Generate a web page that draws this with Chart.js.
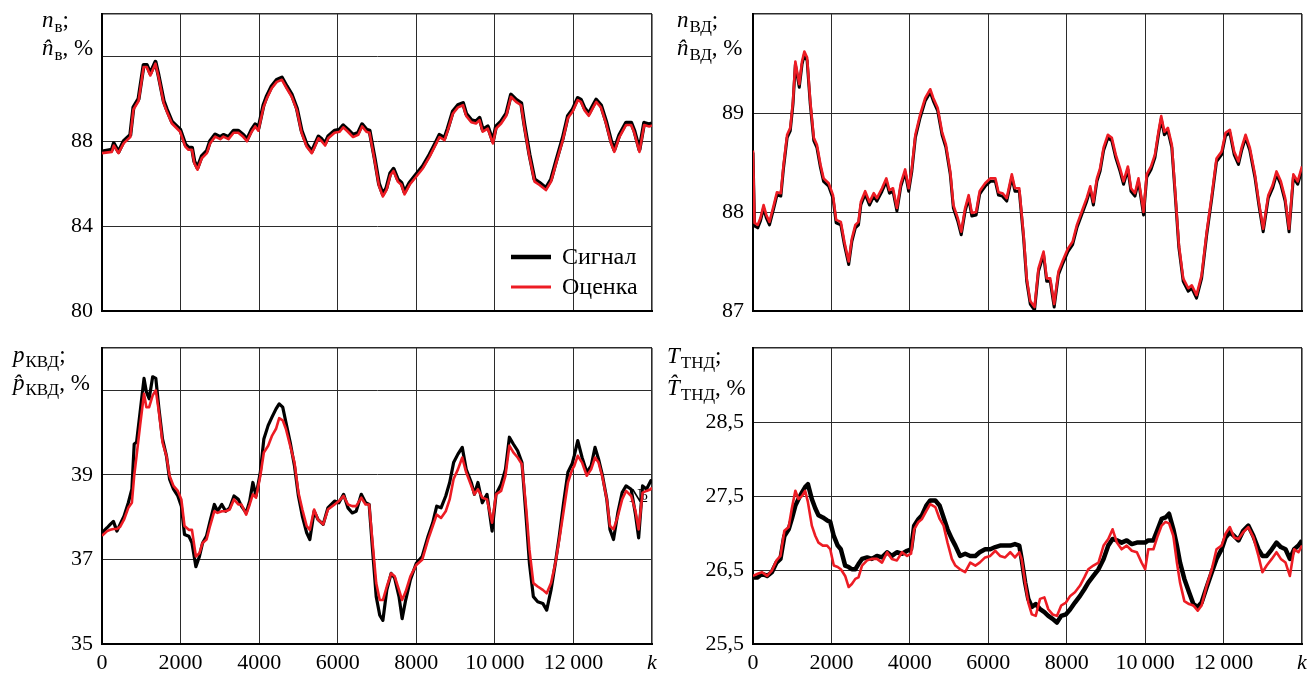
<!DOCTYPE html>
<html><head><meta charset="utf-8">
<script src="https://cdn.jsdelivr.net/npm/chart.js@4.4.1/dist/chart.umd.min.js"></script>
<style>
html,body{margin:0;padding:0;background:#fff;}
#wrap{position:relative;width:1307px;height:675px;overflow:hidden;background:#fff;}
.p{position:absolute;}
canvas{display:block;}
</style></head><body>
<div id="wrap">
<div class="p" style="left:0;top:0;"><canvas id="c1" width="660" height="330"></canvas></div>
<div class="p" style="left:660px;top:0;"><canvas id="c2" width="647" height="330"></canvas></div>
<div class="p" style="left:0;top:330px;"><canvas id="c3" width="660" height="345"></canvas></div>
<div class="p" style="left:660px;top:330px;"><canvas id="c4" width="647" height="345"></canvas></div>
</div>
<script>
// ---------- data ----------
const seriesNames = ['Сигнал', 'Оценка'];
const xGrid = [0,2000,4000,6000,8000,10000,12000,14000];
const xTickLabels = ['0','2000','4000','6000','8000','10\u2009000','12\u2009000','k'];

// panel 1: n_в
const k1 = [0,250,300,420,550,720,800,930,1060,1140,
1230,1360,1440,1570,1650,1780,1990,2120,2200,2290,
2350,2430,2540,2670,2750,2880,3010,3090,3220,3350,
3470,3600,3690,3810,3900,3980,4110,4190,4320,4450,
4580,4700,4830,4960,5080,5210,5340,5420,5510,5590,
5680,5760,5920,6050,6140,6260,6390,6520,6620,6730,
6810,6940,7050,7150,7240,7340,7420,7530,7620,7700,
7830,8000,8170,8340,8510,8590,8720,8800,8930,9060,
9190,9270,9400,9520,9610,9690,9820,9950,10030,10160,
10290,10410,10540,10670,10750,10880,11010,11130,11300,11430,
11560,11730,11860,11980,12110,12190,12280,12390,12490,12580,
12700,12830,12960,13040,13170,13340,13470,13550,13680,13800,
13930,14000];
const sig1 = [87.52,87.6,87.9,87.5,88.0,88.3,89.6,90.0,91.6,91.6,
91.2,91.75,91.1,89.9,89.5,88.92,88.55,87.85,87.7,87.7,
87.05,86.75,87.3,87.55,88.0,88.32,88.2,88.3,88.2,88.5,
88.5,88.3,88.08,88.55,88.8,88.6,89.7,90.1,90.6,90.9,
91.0,90.6,90.2,89.55,88.5,87.85,87.52,87.85,88.22,88.1,
87.9,88.24,88.5,88.55,88.75,88.55,88.3,88.4,88.8,88.55,
88.5,87.2,86.0,85.5,85.8,86.5,86.7,86.2,86.05,85.6,
86.05,86.44,86.83,87.38,88.0,88.3,88.16,88.6,89.4,89.7,
89.8,89.3,89.0,88.94,89.1,88.55,88.7,88.0,88.7,88.94,
89.3,90.2,89.96,89.8,88.8,87.38,86.2,86.05,85.8,86.2,
87.07,88.16,89.2,89.5,90.04,89.96,89.57,89.3,89.65,89.96,
89.7,88.94,88.0,87.6,88.3,88.87,88.87,88.5,87.6,88.87,
88.8,88.85];
const est1 = [87.44,87.5,87.8,87.44,87.9,88.2,89.5,89.9,91.5,91.5,
91.1,91.66,91.03,89.8,89.4,88.84,88.45,87.75,87.6,87.6,
86.97,86.66,87.2,87.44,87.9,88.22,88.1,88.22,88.1,88.4,
88.4,88.2,88.0,88.45,88.7,88.5,89.6,90.0,90.5,90.8,
90.9,90.5,90.1,89.47,88.4,87.75,87.44,87.75,88.14,88.0,
87.8,88.14,88.4,88.45,88.66,88.45,88.2,88.3,88.7,88.45,
88.4,87.1,85.9,85.4,85.7,86.4,86.6,86.1,85.95,85.5,
85.95,86.34,86.73,87.28,87.9,88.2,88.06,88.5,89.3,89.6,
89.7,89.2,88.9,88.84,89.0,88.45,88.6,87.9,88.6,88.84,
89.2,90.1,89.86,89.7,88.7,87.28,86.1,85.95,85.7,86.1,
86.97,88.06,89.1,89.4,89.94,89.86,89.47,89.2,89.55,89.86,
89.6,88.84,87.9,87.5,88.2,88.77,88.77,88.4,87.5,88.77,
88.7,88.75];
const yGrid1 = [80,84,88,92,94];
const yLabels1 = ['80','84','88','',''];

// panel 2: n_ВД
const k2 = [0,40,120,190,270,340,420,530,610,710,
780,870,950,1020,1080,1180,1250,1310,1380,1460,
1550,1630,1720,1800,1930,2040,2120,2240,2330,2440,
2520,2610,2690,2750,2860,2970,3080,3160,3290,3400,
3480,3570,3670,3770,3880,3970,4050,4140,4260,4390,
4520,4600,4710,4820,4920,5030,5110,5220,5310,5410,
5500,5580,5690,5780,5830,5920,6050,6180,6260,6360,
6470,6600,6680,6790,6900,6980,7070,7180,7280,7410,
7490,7580,7680,7790,7890,8030,8150,8260,8380,8510,
8600,8680,8770,8850,8940,9050,9150,9250,9360,9450,
9560,9640,9740,9830,9960,10040,10150,10250,10340,10410,
10490,10580,10680,10760,10860,10970,11100,11190,11310,11440,
11570,11700,11820,11950,12050,12160,12270,12380,12460,12560,
12670,12800,12900,13010,13140,13250,13350,13460,13570,13670,
13780,13890,14000];
const sig2 = [88.6,87.86,87.84,87.91,88.04,87.94,87.87,88.04,88.17,88.16,
88.45,88.75,88.82,89.09,89.49,89.26,89.49,89.59,89.53,89.09,
88.72,88.65,88.45,88.31,88.26,88.14,87.89,87.87,87.67,87.47,
87.7,87.84,87.87,88.07,88.18,88.07,88.16,88.11,88.21,88.31,
88.19,88.21,88.01,88.26,88.4,88.21,88.41,88.75,88.95,89.12,
89.21,89.12,89.02,88.78,88.65,88.38,88.04,87.91,87.77,88.01,
88.14,87.96,87.97,88.18,88.21,88.26,88.31,88.31,88.17,88.16,
88.11,88.35,88.21,88.21,87.74,87.3,87.07,87.01,87.4,87.57,
87.3,87.3,87.04,87.37,87.47,87.6,87.67,87.84,87.97,88.11,
88.23,88.07,88.31,88.41,88.62,88.75,88.72,88.55,88.41,88.28,
88.43,88.21,88.16,88.31,87.97,88.35,88.43,88.55,88.78,88.94,
88.78,88.82,88.65,88.21,87.64,87.3,87.2,87.23,87.13,87.33,
87.77,88.14,88.51,88.58,88.77,88.8,88.58,88.48,88.62,88.75,
88.62,88.35,88.07,87.8,88.14,88.24,88.38,88.28,88.11,87.8,
88.35,88.28,88.43];
const est2 = [88.62,87.89,87.87,87.94,88.07,87.97,87.9,88.07,88.2,88.19,
88.48,88.78,88.85,89.12,89.52,89.29,89.52,89.62,89.56,89.12,
88.75,88.68,88.48,88.34,88.29,88.17,87.92,87.9,87.7,87.5,
87.73,87.87,87.9,88.1,88.21,88.1,88.19,88.14,88.24,88.34,
88.22,88.24,88.04,88.29,88.43,88.24,88.44,88.78,88.98,89.15,
89.24,89.15,89.05,88.81,88.68,88.41,88.07,87.94,87.8,88.04,
88.17,87.99,88.0,88.21,88.24,88.29,88.34,88.34,88.2,88.19,
88.14,88.38,88.24,88.24,87.77,87.33,87.1,87.04,87.43,87.6,
87.33,87.33,87.07,87.4,87.5,87.63,87.7,87.87,88.0,88.14,
88.26,88.1,88.34,88.44,88.65,88.78,88.75,88.58,88.44,88.31,
88.46,88.24,88.19,88.34,88.0,88.38,88.46,88.58,88.81,88.97,
88.81,88.85,88.68,88.24,87.67,87.33,87.23,87.26,87.16,87.36,
87.8,88.17,88.54,88.61,88.8,88.83,88.61,88.51,88.65,88.78,
88.65,88.38,88.1,87.83,88.17,88.27,88.41,88.31,88.14,87.83,
88.38,88.31,88.46];
const yGrid2 = [87,88,89,90];
const yLabels2 = ['87','88','89',''];

// panel 3: p_КВД
const k3 = [0,130,210,290,380,460,560,670,760,820,
880,970,1070,1130,1200,1290,1370,1450,1540,1640,
1720,1820,1930,2020,2100,2210,2290,2390,2480,2560,
2660,2750,2860,2940,3050,3150,3250,3360,3470,3550,
3670,3760,3840,3920,4030,4120,4230,4330,4430,4510,
4600,4680,4790,4900,5000,5100,5210,5290,5400,5500,
5630,5750,5920,6030,6150,6260,6370,6470,6600,6710,
6800,6880,6980,7070,7150,7250,7360,7450,7560,7640,
7730,7850,8000,8150,8300,8420,8520,8630,8750,8850,
8950,9060,9170,9270,9400,9480,9570,9680,9800,9930,
10030,10160,10270,10370,10470,10580,10690,10800,10880,10980,
11090,11220,11320,11430,11540,11640,11750,11860,11970,12020,
12110,12220,12340,12450,12550,12640,12740,12850,12930,13020,
13130,13240,13340,13470,13580,13660,13760,13860,13970,14000];
const sig3 = [37.63,37.75,37.83,37.9,37.67,37.83,38.02,38.34,38.66,39.73,
39.77,40.48,41.28,40.96,40.8,41.32,41.28,40.56,39.85,39.45,
38.9,38.66,38.5,38.26,37.59,37.55,37.39,36.83,37.07,37.39,
37.55,37.9,38.3,38.14,38.3,38.14,38.22,38.5,38.42,38.26,
38.1,38.38,38.82,38.5,39.06,39.85,40.17,40.37,40.56,40.68,
40.6,40.25,39.77,39.21,38.5,38.02,37.63,37.47,38.14,37.94,
37.83,38.22,38.38,38.34,38.54,38.22,38.1,38.14,38.54,38.34,
38.3,37.31,36.12,35.68,35.56,36.28,36.67,36.56,36.12,35.6,
36.04,36.52,36.91,37.07,37.55,37.87,38.26,38.22,38.5,38.82,
39.29,39.49,39.65,39.13,38.82,38.54,38.82,38.34,38.54,37.67,
38.54,38.78,39.13,39.89,39.73,39.57,39.29,37.94,36.91,36.12,
36.0,35.96,35.8,36.28,36.91,37.55,38.34,39.06,39.27,39.45,
39.81,39.41,39.06,39.21,39.65,39.37,38.98,38.42,37.71,37.47,
38.1,38.58,38.74,38.66,38.06,37.51,38.74,38.66,38.86,38.8];
const est3 = [37.56,37.67,37.7,37.72,37.72,37.77,37.94,38.22,38.34,38.98,
39.45,40.17,40.92,40.6,40.6,40.88,41.0,40.48,39.77,39.45,
38.98,38.74,38.62,38.42,37.79,37.7,37.7,37.07,37.15,37.39,
37.47,37.79,38.14,38.1,38.14,38.14,38.18,38.42,38.3,38.3,
38.06,38.3,38.54,38.46,38.98,39.53,39.69,39.93,40.09,40.34,
40.29,40.09,39.69,39.29,38.58,38.18,37.79,37.7,38.18,37.94,
37.83,38.18,38.3,38.38,38.5,38.3,38.26,38.26,38.46,38.3,
38.3,37.47,36.44,36.04,36.04,36.36,36.67,36.6,36.28,36.04,
36.24,36.6,36.87,36.99,37.47,37.79,38.06,37.98,38.14,38.42,
38.9,39.13,39.41,39.06,38.74,38.54,38.66,38.46,38.42,37.87,
38.54,38.62,38.98,39.69,39.53,39.41,39.25,38.18,37.23,36.44,
36.36,36.28,36.2,36.44,36.91,37.47,38.14,38.82,39.13,39.21,
39.45,39.29,38.98,39.13,39.41,39.29,38.94,38.42,37.79,37.71,
38.02,38.42,38.62,38.5,38.14,37.71,38.58,38.62,38.66,38.7];
const yGrid3 = [35,37,39,41,42];
const yLabels3 = ['35','37','39','',''];

// panel 4: T_ТНД
const k4 = [0,120,230,360,480,600,700,800,910,990,
1080,1160,1250,1330,1400,1500,1590,1670,1780,1890,
1970,2060,2160,2240,2350,2440,2520,2610,2690,2780,
2910,3030,3160,3290,3420,3540,3670,3800,3930,4030,
4110,4220,4310,4420,4520,4650,4760,4860,4960,5070,
5160,5280,5410,5540,5670,5780,5920,6050,6180,6300,
6430,6560,6680,6790,6850,6940,7020,7110,7210,7320,
7430,7530,7640,7750,7860,7980,8090,8210,8340,8450,
8550,8680,8810,8940,9060,9170,9280,9400,9530,9660,
9790,9910,10000,10080,10210,10320,10420,10520,10610,10720,
10810,10890,11000,11120,11230,11340,11440,11570,11700,11820,
11950,12050,12160,12270,12380,12500,12630,12760,12890,12990,
13100,13230,13350,13460,13580,13690,13800,13910,14000];
const sig4 = [26.4,26.4,26.45,26.42,26.47,26.6,26.65,26.96,27.05,27.19,
27.37,27.46,27.55,27.62,27.66,27.46,27.33,27.24,27.21,27.17,
27.15,26.96,26.83,26.78,26.56,26.54,26.51,26.51,26.58,26.65,
26.67,26.65,26.69,26.67,26.74,26.69,26.74,26.72,26.76,26.78,
27.1,27.19,27.24,27.37,27.44,27.44,27.37,27.21,27.05,26.92,
26.83,26.69,26.72,26.69,26.69,26.74,26.78,26.78,26.81,26.83,
26.83,26.83,26.85,26.83,26.65,26.33,26.11,26.0,26.04,25.97,
25.93,25.88,25.84,25.79,25.88,25.9,25.97,26.06,26.15,26.24,
26.33,26.42,26.51,26.65,26.83,26.92,26.9,26.87,26.9,26.85,
26.87,26.87,26.87,26.9,26.9,27.05,27.19,27.21,27.26,27.05,
26.83,26.6,26.38,26.2,26.04,26.0,26.06,26.27,26.47,26.65,
26.78,26.94,27.01,26.96,26.9,27.03,27.1,26.96,26.78,26.69,
26.69,26.78,26.87,26.81,26.78,26.65,26.78,26.83,26.9];
const est4 = [26.42,26.45,26.47,26.42,26.49,26.63,26.69,27.03,27.08,27.33,
27.57,27.46,27.5,27.57,27.42,27.1,26.96,26.87,26.83,26.83,
26.78,26.56,26.54,26.51,26.42,26.27,26.31,26.38,26.4,26.56,
26.63,26.65,26.65,26.6,26.74,26.65,26.63,26.74,26.69,26.72,
27.05,27.15,27.19,27.3,27.39,27.35,27.19,27.1,26.87,26.65,
26.56,26.51,26.47,26.6,26.56,26.6,26.67,26.69,26.76,26.69,
26.67,26.74,26.67,26.74,26.65,26.33,26.06,25.9,25.88,26.11,
26.13,25.97,25.9,25.88,26.02,26.06,26.15,26.2,26.29,26.4,
26.51,26.56,26.6,26.83,26.92,27.05,26.87,26.78,26.83,26.76,
26.74,26.6,26.51,26.78,26.78,26.96,27.1,27.15,27.13,26.96,
26.6,26.33,26.08,26.04,26.02,25.95,26.02,26.29,26.51,26.78,
26.83,26.99,27.08,26.94,26.92,27.01,27.08,26.94,26.69,26.47,
26.56,26.65,26.74,26.65,26.6,26.42,26.78,26.74,26.83];
const yGrid4 = [25.5,26.5,27.5,28.5,29.5];
const yLabels4 = ['25,5','26,5','27,5','28,5',''];

// ---------- drawing ----------
const FAM = "'Liberation Serif','Times New Roman',serif";
const RED = '#ed1c24';
const GRID = '#2b2b2b';
const fI = 'italic 23px ' + FAM, fN = '23px ' + FAM, fS = '17px ' + FAM;

function drawRich(ctx, x, y, parts){
  let cx = x;
  ctx.save();
  ctx.fillStyle = '#000';
  ctx.textBaseline = 'alphabetic';
  ctx.textAlign = 'left';
  for (const p of parts){
    ctx.font = p.f;
    ctx.fillText(p.t, cx, y + (p.dy || 0));
    cx += ctx.measureText(p.t).width + (p.sp || 0);
  }
  ctx.restore();
}
function titlePlugin(sym, sub, x, y1, y2){
  return {id:'ttl', afterDraw(chart){
    const c = chart.ctx;
    drawRich(c, x, y1, [{t:sym, f:fI, sp:1}, {t:sub, f:fS, dy:5}, {t:';', f:fN}]);
    drawRich(c, x, y2, [{t:sym + '\u0302', f:fI, sp:1}, {t:sub, f:fS, dy:5}, {t:', %', f:fN}]);
  }};
}
const legendPlugin = {id:'lgd', afterDraw(chart){
  const c = chart.ctx;
  const items = [{n:seriesNames[0], col:'#000', w:4.5, y:257}, {n:seriesNames[1], col:RED, w:3, y:287}];
  c.save();
  for (const it of items){
    c.strokeStyle = it.col; c.lineWidth = it.w;
    c.beginPath(); c.moveTo(511, it.y); c.lineTo(551, it.y); c.stroke();
    c.fillStyle = '#000'; c.font = '24px ' + FAM; c.textBaseline = 'middle'; c.textAlign = 'left';
    c.fillText(it.n, 562, it.y + 1);
  }
  c.restore();
}};
const markPlugin = {id:'mark', beforeDatasetsDraw(chart){
  const a = chart.chartArea, c = chart.ctx;
  c.save();
  c.beginPath(); c.rect(a.left, a.top, a.right - a.left, a.bottom - a.top); c.clip();
  c.fillStyle = '#000'; c.font = '20px ' + FAM; c.textBaseline = 'alphabetic';
  c.fillText('№', 629, 172);
  c.restore();
}};

function makePanel(id, g, k, sig, est, yGrid, yLabels, bw, extra){
  const sigData = k.map((x, i) => ({x, y: sig[i]}));
  const estData = k.map((x, i) => ({x, y: est[i]}));
  const tickFont = (c) => ({family: FAM, size: 22, style: (c.tick && c.tick.value === 14000) ? 'italic' : 'normal'});
  return new Chart(document.getElementById(id), {
    type: 'line',
    data: {datasets: [
      {label: seriesNames[0], data: sigData, borderColor: '#000', borderWidth: bw, pointRadius: 0, tension: 0, order: 1, borderJoinStyle: 'round'},
      {label: seriesNames[1], data: estData, borderColor: RED, borderWidth: 2.6, pointRadius: 0, tension: 0, order: 0, borderJoinStyle: 'round'}
    ]},
    options: {
      responsive: false, animation: false, events: [],
      layout: {padding: {left: 0, right: g.padR, top: g.padT, bottom: 0}},
      plugins: {legend: {display: false}, tooltip: {enabled: false}},
      scales: {
        x: {type: 'linear', min: 0, max: 14000,
          afterBuildTicks: (s) => { s.ticks = xGrid.map(v => ({value: v})); },
          afterFit: (s) => { s.height = g.xH; s.paddingLeft = 0; s.paddingRight = 0; s.paddingTop = 0; s.paddingBottom = 0; },
          ticks: {display: g.xLabels, autoSkip: false, maxRotation: 0, minRotation: 0, padding: 6, color: '#000', font: tickFont,
            callback: (v) => xTickLabels[xGrid.indexOf(v)] ?? ''},
          grid: {color: GRID, lineWidth: (c) => (c.tick && c.tick.value === 14000) ? 1.6 : 1, drawTicks: false},
          border: {display: true, color: '#000', width: 2}
        },
        y: {type: 'linear', min: yGrid[0], max: yGrid[yGrid.length - 1],
          afterBuildTicks: (s) => { s.ticks = yGrid.map(v => ({value: v})); },
          afterFit: (s) => { s.width = g.yW; s.paddingTop = 0; s.paddingBottom = 0; s.paddingLeft = 0; s.paddingRight = 0; },
          ticks: {padding: 9, color: '#000', font: {family: FAM, size: 22},
            callback: (v) => yLabels[yGrid.indexOf(v)] ?? ''},
          grid: {color: GRID, lineWidth: (c) => (c.tick && c.tick.value === yGrid[yGrid.length - 1]) ? 1.6 : 1, drawTicks: false},
          border: {display: true, color: '#000', width: 2}
        }
      }
    },
    plugins: extra
  });
}

makePanel('c1', {yW: 102, padR: 8, padT: 14, xH: 19, xLabels: false}, k1, sig1, est1, yGrid1, yLabels1, 4,
  [titlePlugin('n', 'в', 42, 27, 55), legendPlugin]);
makePanel('c2', {yW: 93, padR: 5, padT: 14, xH: 19, xLabels: false}, k2, sig2, est2, yGrid2, yLabels2, 3,
  [titlePlugin('n', 'ВД', 17, 27, 55)]);
makePanel('c3', {yW: 102, padR: 8, padT: 18, xH: 31, xLabels: true}, k3, sig3, est3, yGrid3, yLabels3, 3.2,
  [titlePlugin('p', 'КВД', 13, 32, 60), markPlugin]);
makePanel('c4', {yW: 93, padR: 5, padT: 18, xH: 31, xLabels: true}, k4, sig4, est4, yGrid4, yLabels4, 4.5,
  [titlePlugin('T', 'ТНД', 7, 33, 65)]);
</script>
</body></html>
